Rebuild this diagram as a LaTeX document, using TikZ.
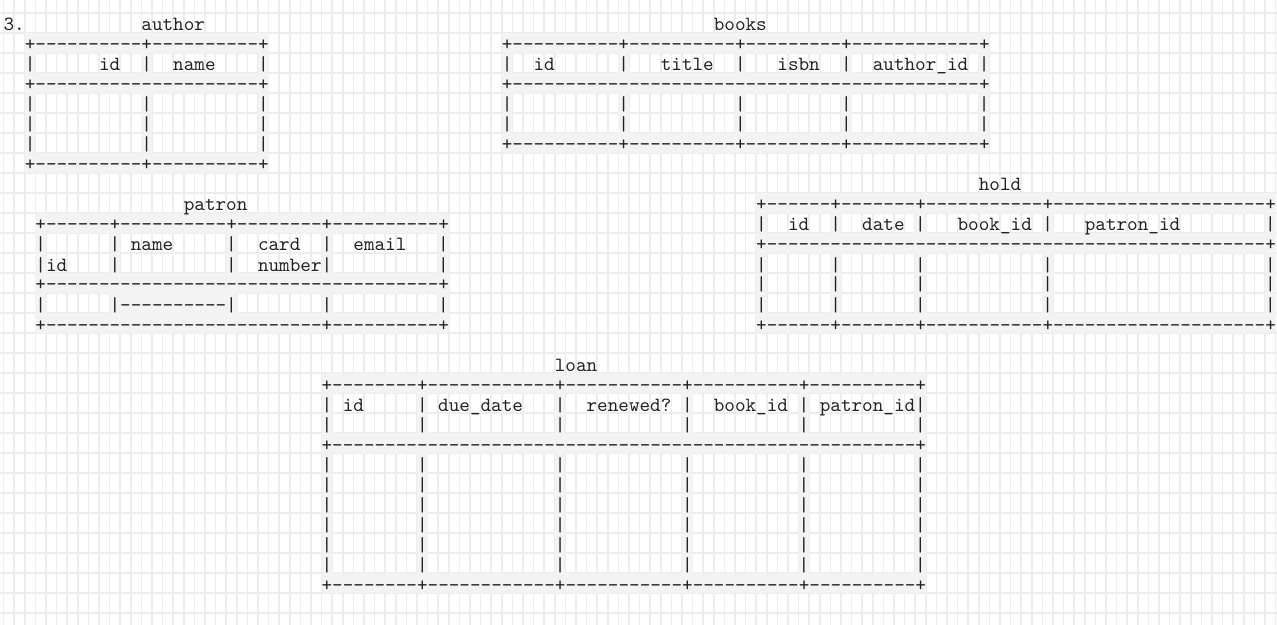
\documentclass[tikz,border=0pt]{standalone}
\usepackage{tikz}

\definecolor{gridgray}{HTML}{EDEDED}
\definecolor{cellgray}{HTML}{F3F3F3}
\definecolor{ink}{HTML}{222222}

\begin{document}
\begin{tikzpicture}[x=5.3pt,y=-10pt,
    gridline/.style={draw=gridgray,line width=0.8pt},
    cellfill/.style={fill=cellgray},
    ascii/.style={anchor=base west,inner sep=0pt,outer sep=0pt,text=ink,
      font=\ttfamily\fontsize{10.1pt}{12pt}\selectfont}]

  % page
  \useasboundingbox (-0.34,-0.65) rectangle (120.13,30.6);
  \fill[white] (-0.34,-0.65) rectangle (120.13,30.6);

  % background grid, one cell per character
  \foreach \k in {0,...,120}
    \draw[gridline] (\k,-0.65) -- (\k,30.6);
  \foreach \k in {0,...,30}
    \draw[gridline] (-0.34,\k) -- (120.13,\k);

  % shaded cells under the rules
  \foreach \r in {1,3,7} \fill[cellfill] (2,\r) rectangle (25,\r+1);
  \foreach \c in {2,13,24} \fill[cellfill] (\c,1) rectangle (\c+1,8);
  \foreach \r in {1,3,6} \fill[cellfill] (47,\r) rectangle (93,\r+1);
  \foreach \c in {47,58,69,79,92} \fill[cellfill] (\c,1) rectangle (\c+1,7);
  \foreach \r in {10,13,15} \fill[cellfill] (3,\r) rectangle (42,\r+1);
  \foreach \c in {3,10,21,30,41} \fill[cellfill] (\c,10) rectangle (\c+1,16);
  \fill[cellfill] (10,14) rectangle (22,15);
  \foreach \r in {9,11,15} \fill[cellfill] (71,\r) rectangle (120,\r+1);
  \foreach \c in {71,78,86,98,119} \fill[cellfill] (\c,9) rectangle (\c+1,16);
  \foreach \r in {18,21,28} \fill[cellfill] (30,\r) rectangle (87,\r+1);
  \foreach \c in {30,39,52,64,75,86} \fill[cellfill] (\c,18) rectangle (\c+1,29);

  % author
  \node[ascii] (num) at (0,0.9) {3.};
  \node[ascii] (author) at (13,0.9) {author};
  \node[ascii] (author-top) at (2,1.9) {+----------+----------+};
  \node[ascii] (author-id) at (9,2.9) {id};
  \node[ascii] (author-name) at (16,2.9) {name};
  \node[ascii] (author-mid) at (2,3.9) {+---------------------+};
  \node[ascii] (author-bot) at (2,7.9) {+----------+----------+};
  \foreach \c in {2,13,24}
    \foreach \r in {2,4,5,6}
      \node[ascii] (author-bar-\c-\r) at (\c,\r+0.9) {|};

  % books
  \node[ascii] (books) at (67,0.9) {books};
  \node[ascii] (books-top) at (47,1.9) {+----------+----------+---------+------------+};
  \node[ascii] (books-id) at (50,2.9) {id};
  \node[ascii] (books-title) at (62,2.9) {title};
  \node[ascii] (books-isbn) at (73,2.9) {isbn};
  \node[ascii] (books-author) at (82,2.9) {author\_id};
  \node[ascii] (books-mid) at (47,3.9) {+--------------------------------------------+};
  \node[ascii] (books-bot) at (47,6.9) {+----------+----------+---------+------------+};
  \foreach \c in {47,58,69,79,92}
    \foreach \r in {2,4,5}
      \node[ascii] (books-bar-\c-\r) at (\c,\r+0.9) {|};

  % patron
  \node[ascii] (patron) at (17,9.9) {patron};
  \node[ascii] (patron-top) at (3,10.9) {+------+----------+--------+----------+};
  \node[ascii] (patron-name) at (12,11.9) {name};
  \node[ascii] (patron-card) at (24,11.9) {card};
  \node[ascii] (patron-email) at (33,11.9) {email};
  \node[ascii] (patron-id) at (4,12.9) {id};
  \node[ascii] (patron-number) at (24,12.9) {number};
  \node[ascii] (patron-mid) at (3,13.9) {+-------------------------------------+};
  \node[ascii] (patron-dash) at (11,14.9) {----------};
  \node[ascii] (patron-bot) at (3,15.9) {+--------------------------+----------+};
  \foreach \c in {3,10,21,30,41}
    \foreach \r in {11,12,14}
      \node[ascii] (patron-bar-\c-\r) at (\c,\r+0.9) {|};

  % hold
  \node[ascii] (hold) at (92,8.9) {hold};
  \node[ascii] (hold-top) at (71,9.9) {+------+-------+-----------+--------------------+};
  \node[ascii] (hold-id) at (74,10.9) {id};
  \node[ascii] (hold-date) at (81,10.9) {date};
  \node[ascii] (hold-book) at (90,10.9) {book\_id};
  \node[ascii] (hold-patron) at (102,10.9) {patron\_id};
  \node[ascii] (hold-mid) at (71,11.9) {+-----------------------------------------------+};
  \node[ascii] (hold-bot) at (71,15.9) {+------+-------+-----------+--------------------+};
  \foreach \c in {71,78,86,98,119}
    \foreach \r in {10,12,13,14}
      \node[ascii] (hold-bar-\c-\r) at (\c,\r+0.9) {|};

  % loan
  \node[ascii] (loan) at (52,17.9) {loan};
  \node[ascii] (loan-top) at (30,18.9) {+--------+------------+-----------+----------+----------+};
  \node[ascii] (loan-id) at (32,19.9) {id};
  \node[ascii] (loan-due) at (41,19.9) {due\_date};
  \node[ascii] (loan-renewed) at (55,19.9) {renewed?};
  \node[ascii] (loan-book) at (67,19.9) {book\_id};
  \node[ascii] (loan-patron) at (77,19.9) {patron\_id};
  \node[ascii] (loan-mid) at (30,21.9) {+-------------------------------------------------------+};
  \node[ascii] (loan-bot) at (30,28.9) {+--------+------------+-----------+----------+----------+};
  \foreach \c in {30,39,52,64,75,86}
    \foreach \r in {19,20,22,23,24,25,26,27}
      \node[ascii] (loan-bar-\c-\r) at (\c,\r+0.9) {|};
\end{tikzpicture}
\end{document}
